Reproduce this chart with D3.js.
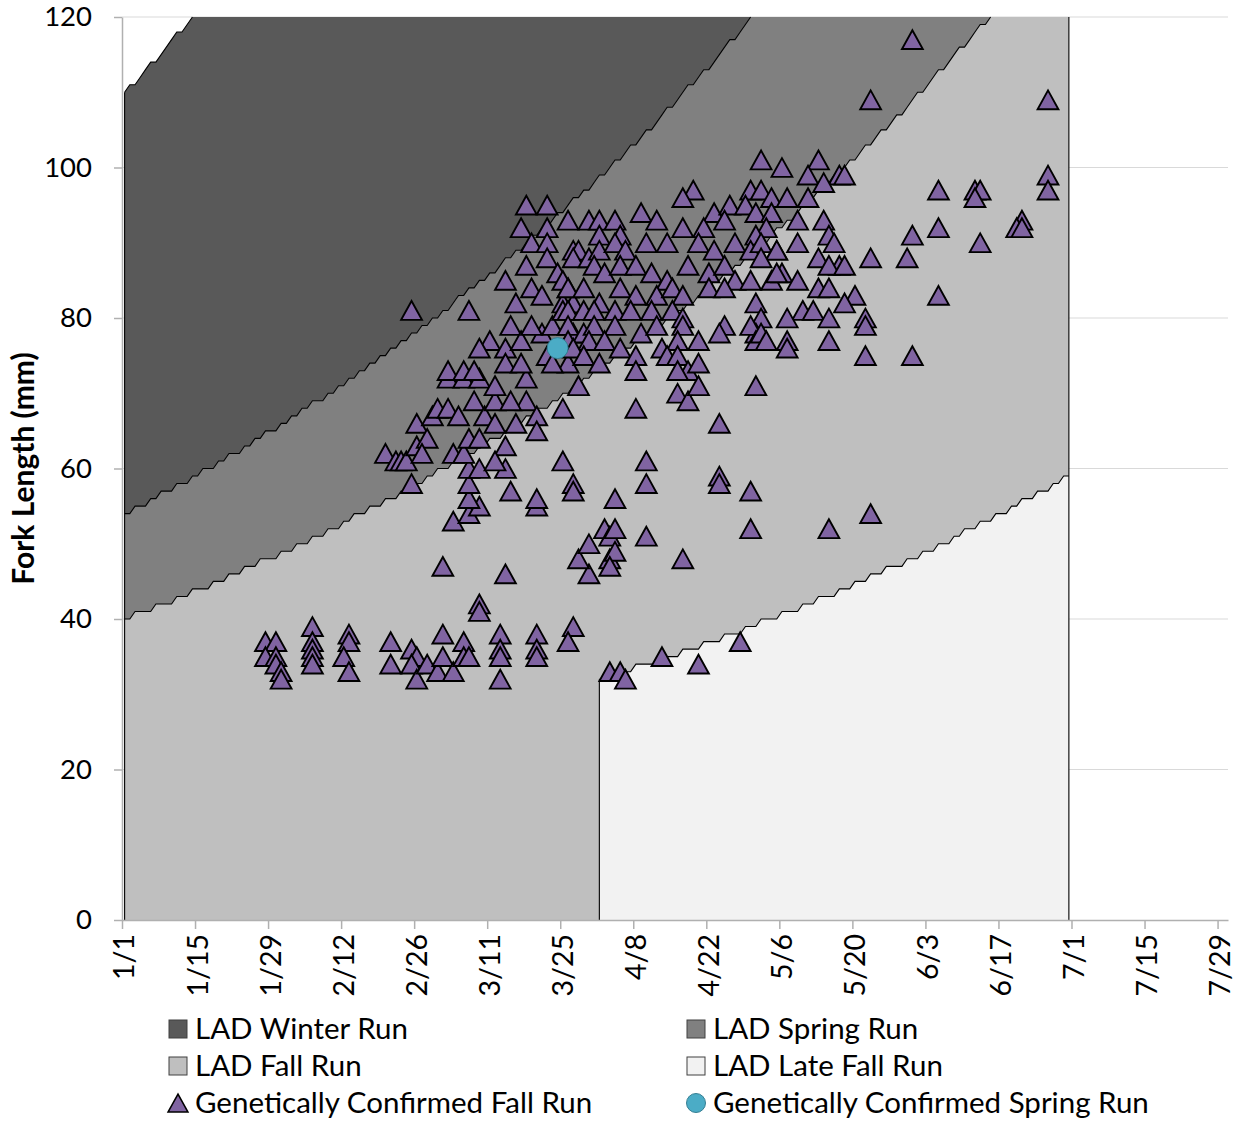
<!DOCTYPE html>
<html>
<head>
<meta charset="utf-8">
<script src="https://cdn.jsdelivr.net/npm/d3@7"></script>
<style>
  body { margin: 0; background: #ffffff; }
  text { font-family: Lato, "Open Sans", sans-serif; fill: #000; }
</style>
</head>
<body>
<svg id="chart" width="1244" height="1122"></svg>
<script>
// ---------------- DATA ----------------
// x values are day offsets from Jan 1 (leap year), y values are fork length in mm.
const xTickDays   = [0, 14, 28, 42, 56, 70, 84, 98, 112, 126, 140, 154, 168, 182, 196, 210];
const xTickLabels = ["1/1","1/15","1/29","2/12","2/26","3/11","3/25","4/8","4/22","5/6","5/20","6/3","6/17","7/1","7/15","7/29"];
const yTicks      = [0, 20, 40, 60, 80, 100, 120];

// LAD boundaries: starting length (mm) and the days on which the daily criterion steps up by 1 mm
const ladLastDay = 181;                 // 6/30
const winterTopStart = 110;
const winterTopSteps = [1,3,4,5,7,8,9,10,12,13];
const winterSpringStart = 54;
const winterSpringSteps = [2,5,7,10,13,15,18,20,23,25,27,30,32,34,36,39,41,43,45,47,
  49,51,53,55,57,59,61,63,64,66,68,70,72,73,75,77,78,80,82,83,85,86,88,90,91,93,94,96,97,99,
  100,102,103,104,106,107,108,110,111,113,114,115,116,118,119,120];
const springFallStart = 40;
const springFallSteps = [2,6,10,13,17,20,23,26,30,33,36,39,42,44,47,50,53,55,58,60,
  63,65,68,70,73,75,77,79,82,84,86,88,90,92,94,96,98,100,102,104,
  106,108,110,112,113,115,117,119,120,122,124,125,127,129,130,132,133,135,136,138,
  139,141,142,144,145,147,148,150,151,152,154,155,156,158,159,160,162,163,164,166];
const lateFallFirstDay = 91;            // 4/1
const lateFallStart = 32;
const lateFallSteps = [94,98,103,107,111,115,119,122,126,130,133,137,140,143,146,150,153,156,159,161,
  164,167,170,172,175,178,180];

// Genetically confirmed samples: [day, fork length]
const fallRun = [
  [27,37],[29,37],[27,35],[29,35],[29,34],[30,33],[30,32],
  [36,39],[36,37],[36,36],[36,35],[36,34],
  [43,38],[43,37],[42,35],[43,33],
  [51,37],[51,34],
  [55,36],[56,35],[55,34],[56,32],[58,34],[60,33],[61,38],[61,35],[63,33],[65,37],[65,35],[66,35],
  [72,38],[72,36],[72,35],[72,32],
  [79,38],[79,36],[79,35],
  [86,39],[85,37],
  [68,42],[68,41],[73,46],[61,47],
  [93,33],[95,33],[96,32],[103,35],[110,34],[118,37],
  [63,53],[66,54],[68,55],[66,56],[66,58],[66,60],[68,60],[73,60],[74,57],[79,55],[79,56],
  [84,61],[86,58],[86,57],[84,68],
  [89,46],[87,48],[89,50],[92,52],[93,51],[94,52],[93,48],[94,49],[93,47],[94,56],
  [100,61],[100,58],[100,51],[98,68],[107,48],
  [114,59],[114,58],[114,66],[120,57],[120,52],
  [135,52],[143,54],
  [55,58],[50,62],[52,61],[53,61],[54,61],[56,63],[56,66],[58,64],[57,62],[59,67],[60,68],[62,68],
  [64,67],[63,62],[65,62],[66,64],[68,64],[67,69],[69,67],[71,69],[71,66],[73,63],[71,61],[75,66],
  [77,69],[79,67],[79,65],
  [62,72],[65,72],[68,72],[74,69],[77,72],[71,71],[62,73],[65,73],[67,73],
  [55,81],[66,81],[77,95],[81,95],[76,92],[81,92],[85,93],[78,90],[81,90],[86,89],[77,87],[81,88],
  [73,85],[78,84],[83,86],[75,82],[80,83],[85,84],[84,82],[86,82],[74,79],[70,77],[68,76],[73,76],
  [76,77],[80,78],[78,79],[82,79],[84,81],[86,78],[85,74],[73,74],[76,74],[81,75],[82,74],[87,71],
  [109,97],[107,96],[120,97],[122,97],[124,96],[99,94],[102,93],[113,94],[116,95],[115,93],[111,92],
  [107,92],[119,95],[121,94],[124,94],[123,92],[121,91],
  [89,93],[91,93],[94,93],[95,91],[91,91],[87,89],[86,88],[89,88],[91,89],[94,90],[96,89],[100,90],
  [104,90],[110,90],[113,89],[117,90],[120,89],[122,90],[125,89],
  [84,85],[90,87],[92,86],[95,87],[98,87],[101,86],[104,85],[108,87],[112,86],[115,87],[117,85],
  [120,85],[121,82],[122,80],[121,78],[124,85],
  [85,84],[88,84],[91,82],[95,84],[98,83],[102,83],[105,84],[107,83],[112,84],[115,84],
  [85,81],[88,81],[90,81],[94,81],[97,81],[101,81],[105,81],[107,80],
  [85,79],[88,78],[90,79],[94,79],[99,78],[102,79],[107,79],[110,77],[106,77],[115,79],[114,78],
  [120,79],[121,77],
  [89,77],[92,77],[95,76],[85,77],[86,76],[88,75],[91,74],[98,75],[98,73],[103,76],[104,75],[106,75],
  [108,73],[110,74],[106,73],
  [121,71],[106,70],[108,69],[110,71],
  [126,100],[133,101],[137,99],[131,99],[134,98],[122,101],
  [156,97],[156,92],[151,91],[150,88],[143,88],[156,83],
  [127,96],[131,96],[129,93],[134,93],[135,91],[129,90],[125,89],[136,90],[133,88],[137,87],[135,87],
  [126,86],[129,85],[133,84],[135,84],[140,83],[138,82],[130,81],[127,80],[132,81],[135,80],[142,80],
  [142,79],[127,77],[127,76],[135,77],[142,75],[151,75],
  [122,88],[122,78],[123,77],[125,86],
  [151,117],[143,109],[177,109],[138,99],[163,97],[164,97],[163,96],[177,99],[177,97],[172,93],
  [171,92],[172,92],[164,90],[138,87]
];
const springRun = [[83,76]];

const legendItems = [
  { label: "LAD Winter Run", kind: "square", color: "#595959" },
  { label: "LAD Spring Run", kind: "square", color: "#808080" },
  { label: "LAD Fall Run", kind: "square", color: "#bfbfbf" },
  { label: "LAD Late Fall Run", kind: "square", color: "#f2f2f2" },
  { label: "Genetically Confirmed Fall Run", kind: "triangle", color: "#8064a2" },
  { label: "Genetically Confirmed Spring Run", kind: "circle", color: "#4bacc6" }
];

// ---------------- CHART ----------------
const svg = d3.select("#chart");
const x = d3.scaleLinear().domain([0, 212]).range([122, 1228]);
const y = d3.scaleLinear().domain([0, 120]).range([920, 17]);
const xd = d => x(d + 0.5);   // each day is plotted in the middle of its slot

function daily(start, steps, d0, d1) {
  const out = [];
  for (let d = d0; d <= d1; d++) out.push({ d, v: start + steps.filter(s => s <= d).length });
  return out;
}
const T = daily(winterTopStart, winterTopSteps, 0, ladLastDay);
const W = daily(winterSpringStart, winterSpringSteps, 0, ladLastDay);
const S = daily(springFallStart, springFallSteps, 0, ladLastDay);
const L = daily(lateFallStart, lateFallSteps, lateFallFirstDay, ladLastDay);

// gridlines
svg.append("g").selectAll("line").data(yTicks.filter(t => t > 0)).join("line")
  .attr("x1", 122).attr("x2", 1228)
  .attr("y1", d => y(d)).attr("y2", d => y(d))
  .attr("stroke", "#d9d9d9").attr("stroke-width", 1.2);

// areas
const areas = svg.append("g");
areas.append("path").datum(S)
  .attr("d", d3.area().x(p => xd(p.d)).y0(y(0)).y1(p => y(p.v)))
  .attr("fill", "#bfbfbf");
areas.append("path").datum(d3.range(0, ladLastDay + 1))
  .attr("d", d3.area().x(i => xd(i)).y0(i => y(S[i].v)).y1(i => y(W[i].v)))
  .attr("fill", "#808080");
areas.append("path").datum(d3.range(0, ladLastDay + 1))
  .attr("d", d3.area().x(i => xd(i)).y0(i => y(W[i].v)).y1(i => y(T[i].v)))
  .attr("fill", "#595959");
areas.append("path").datum(L)
  .attr("d", d3.area().x(p => xd(p.d)).y0(y(0)).y1(p => y(p.v)))
  .attr("fill", "#f2f2f2");

// boundary outlines
const lineGen = d3.line().x(p => xd(p.d)).y(p => y(p.v));
const upTo120 = arr => {
  const k = arr.findIndex(p => p.v >= 120);
  return k < 0 ? arr : arr.slice(0, k + 1);
};
const outlines = svg.append("g").attr("fill", "none").attr("stroke", "#000").attr("stroke-width", 1.1);
[upTo120(T), upTo120(W), upTo120(S), L].forEach(arr =>
  outlines.append("path").attr("d", lineGen(arr)));
outlines.append("line").attr("x1", xd(0)).attr("x2", xd(0)).attr("y1", y(0)).attr("y2", y(T[0].v));
outlines.append("line").attr("x1", xd(lateFallFirstDay)).attr("x2", xd(lateFallFirstDay))
  .attr("y1", y(0)).attr("y2", y(L[0].v));
outlines.append("line").attr("x1", xd(ladLastDay)).attr("x2", xd(ladLastDay))
  .attr("y1", y(0)).attr("y2", y(120));

// axes
const axisColor = "#b0b0b0";
const xAxis = svg.append("g").attr("transform", `translate(0,${y(0)})`)
  .call(d3.axisBottom(x).tickValues(xTickDays).tickSize(9).tickSizeOuter(0).tickFormat((d, i) => xTickLabels[i]));
xAxis.select(".domain").attr("stroke", axisColor).attr("stroke-width", 1.5);
xAxis.selectAll(".tick line").attr("stroke", axisColor).attr("stroke-width", 1.5);
xAxis.selectAll(".tick text")
  .attr("font-size", 28.5).attr("font-family", "Lato, sans-serif").attr("fill", "#000")
  .attr("text-anchor", "end")
  .attr("transform", "rotate(-90)")
  .attr("x", -14).attr("y", 2).attr("dy", "0.35em");

const yAxis = svg.append("g").attr("transform", `translate(122,0)`)
  .call(d3.axisLeft(y).tickValues(yTicks).tickSize(8).tickSizeOuter(0).tickPadding(22));
yAxis.select(".domain").attr("stroke", axisColor).attr("stroke-width", 1.5);
yAxis.selectAll(".tick line").attr("stroke", axisColor).attr("stroke-width", 1.5);
yAxis.selectAll(".tick text")
  .attr("font-size", 27.5).attr("font-family", "Lato, sans-serif").attr("fill", "#000");

svg.append("text")
  .attr("transform", `translate(34,${(y(0) + y(120)) / 2}) rotate(-90)`)
  .attr("text-anchor", "middle")
  .attr("font-size", 30).attr("font-weight", "bold")
  .text("Fork Length (mm)");

// markers
const tri = s => `M0,${-s * 0.47}L${s * 0.52},${s * 0.47}L${-s * 0.52},${s * 0.47}Z`;
svg.append("g").selectAll("path").data(fallRun).join("path")
  .attr("transform", d => `translate(${xd(d[0])},${y(d[1])})`)
  .attr("d", tri(20))
  .attr("fill", "#8064a2").attr("stroke", "#000").attr("stroke-width", 1.9)
  .attr("stroke-linejoin", "miter");
svg.append("g").selectAll("circle").data(springRun).join("circle")
  .attr("cx", d => xd(d[0])).attr("cy", d => y(d[1])).attr("r", 10.5)
  .attr("fill", "#4bacc6").attr("stroke", "#357f93").attr("stroke-width", 1);

// legend
const legend = svg.append("g");
legendItems.forEach((it, i) => {
  const col = i % 2, row = Math.floor(i / 2);
  const gx = col === 0 ? 178 : 696;
  const gy = 1029 + row * 37;
  const g = legend.append("g").attr("transform", `translate(${gx},${gy})`);
  if (it.kind === "square") {
    g.append("rect").attr("x", -9).attr("y", -9).attr("width", 18).attr("height", 18)
      .attr("fill", it.color).attr("stroke", "#404040").attr("stroke-width", 1);
  } else if (it.kind === "triangle") {
    g.append("path").attr("d", tri(19)).attr("fill", it.color)
      .attr("stroke", "#000").attr("stroke-width", 1.6);
  } else {
    g.append("circle").attr("r", 9.5).attr("fill", it.color)
      .attr("stroke", "#357f93").attr("stroke-width", 1);
  }
  g.append("text").attr("x", 17).attr("dy", "0.35em").attr("font-size", 29.5).text(it.label);
});
</script>
</body>
</html>
